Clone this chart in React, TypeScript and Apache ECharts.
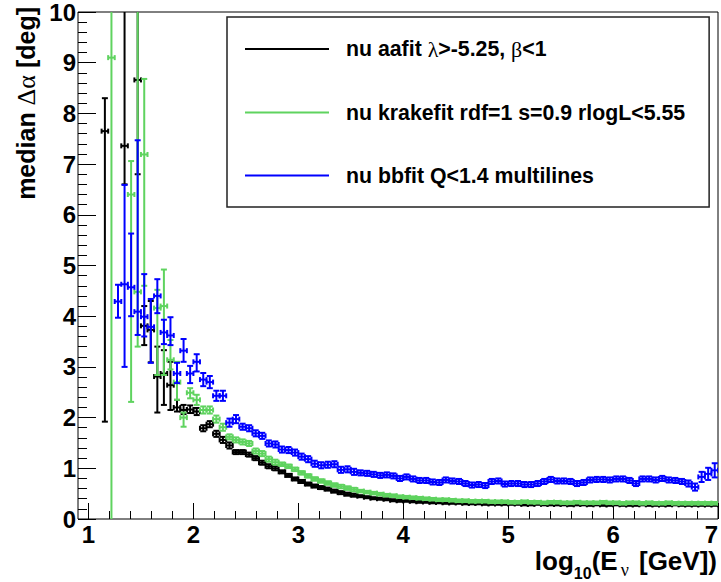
import React, { useEffect, useRef } from "react";
import * as echarts from "echarts";

// Histogram binning in log10(E/GeV): 96 bins of 0.0625 from 1 to 7
const BIN_START = 1;
const BIN_WIDTH = 0.0625;

const X_TICKS = [1, 2, 3, 4, 5, 6, 7];
const Y_TICKS = [0, 1, 2, 3, 4, 5, 6, 7, 8, 9, 10];

const NAME_AAFIT = "nu aafit λ>-5.25, β<1";
const NAME_KRAKE = "nu krakefit rdf=1 s=0.9 rlogL<5.55";
const NAME_BB = "nu bbfit Q<1.4 multilines";

// ---- aafit (black) ----
const aafitMedian = [
  null, null, 7.65, null, null, 7.36, null, 8.66, 3.81, 3.73,
  2.81, 2.87, 2.64, 2.2, 2.15, 2.16, 2.12, 1.79, 1.87, 1.68,
  1.56, 1.45, 1.32, 1.32, 1.27, 1.2, 1.11, 1.04, 1.0, 0.93,
  0.86, 0.79, 0.74, 0.69, 0.65, 0.62, 0.59, 0.55, 0.52, 0.49,
  0.47, 0.45, 0.43, 0.41, 0.4, 0.39, 0.37, 0.36, 0.36, 0.35,
  0.34, 0.34, 0.33, 0.33, 0.32, 0.32, 0.32, 0.31, 0.31, 0.31,
  0.3, 0.3, 0.3, 0.3, 0.3, 0.3, 0.29, 0.29, 0.3, 0.29,
  0.29, 0.29, 0.29, 0.28, 0.29, 0.29, 0.28, 0.29, 0.28, 0.28,
  0.29, 0.28, 0.28, 0.28, 0.29, 0.28, 0.28, 0.28, 0.28, 0.29,
  0.28, 0.28, 0.28, 0.28, 0.28, 0.28,
];
const aafitErrDown = [
  null, null, 5.73, null, null, 0.76, null, 1.86, 0.38, 0.64,
  0.71, 0.62, 0.49, 0.08, 0.08, 0.07, 0.07, 0.06, 0.06, 0.06,
  0.06, 0.06, 0.04, 0.04, 0.04, 0.04, 0.04, 0.04, 0.04, 0.03,
  0.03, 0.03, 0.03, 0.03, 0.03, 0.03, 0.03, 0.03, 0.03, 0.03,
  0.03, 0.02, 0.02, 0.02, 0.02, 0.02, 0.02, 0.02, 0.02, 0.02,
  0.02, 0.02, 0.02, 0.02, 0.02, 0.02, 0.02, 0.02, 0.02, 0.02,
  0.02, 0.02, 0.02, 0.02, 0.02, 0.02, 0.02, 0.02, 0.02, 0.02,
  0.02, 0.02, 0.02, 0.02, 0.02, 0.02, 0.02, 0.02, 0.02, 0.02,
  0.02, 0.02, 0.02, 0.02, 0.02, 0.02, 0.02, 0.02, 0.02, 0.02,
  0.02, 0.02, 0.02, 0.02, 0.02, 0.02,
];
const aafitErrUp = [
  null, null, 0.65, null, null, 3.64, null, 2.34, 0.39, 0.57,
  0.59, 0.46, 0.46, 0.15, 0.1, 0.08, 0.07, 0.06, 0.06, 0.06,
  0.06, 0.06, 0.04, 0.04, 0.04, 0.04, 0.04, 0.04, 0.04, 0.03,
  0.03, 0.03, 0.03, 0.03, 0.03, 0.03, 0.03, 0.03, 0.03, 0.03,
  0.03, 0.02, 0.02, 0.02, 0.02, 0.02, 0.02, 0.02, 0.02, 0.02,
  0.02, 0.02, 0.02, 0.02, 0.02, 0.02, 0.02, 0.02, 0.02, 0.02,
  0.02, 0.02, 0.02, 0.02, 0.02, 0.02, 0.02, 0.02, 0.02, 0.02,
  0.02, 0.02, 0.02, 0.02, 0.02, 0.02, 0.02, 0.02, 0.02, 0.02,
  0.02, 0.02, 0.02, 0.02, 0.02, 0.02, 0.02, 0.02, 0.02, 0.02,
  0.02, 0.02, 0.02, 0.02, 0.02, 0.02,
];

// ---- krakefit (green) ----
const krakeMedian = [
  null, null, null, 9.1, null, null, 6.4, 4.48, 7.19, null,
  4.16, 4.2, 3.14, 2.7, 2.0, 2.49, 2.35, 2.15, 2.15, 1.97,
  1.81, 1.62, 1.56, 1.52, 1.49, 1.34, 1.29, 1.18, 1.12, 1.08,
  1.04, 0.98, 0.91, 0.85, 0.79, 0.75, 0.71, 0.67, 0.64, 0.61,
  0.58, 0.55, 0.53, 0.51, 0.49, 0.47, 0.46, 0.44, 0.43, 0.42,
  0.41, 0.4, 0.39, 0.38, 0.38, 0.37, 0.36, 0.36, 0.35, 0.35,
  0.35, 0.34, 0.34, 0.34, 0.33, 0.33, 0.34, 0.33, 0.33, 0.32,
  0.33, 0.33, 0.32, 0.32, 0.33, 0.32, 0.32, 0.32, 0.33, 0.32,
  0.32, 0.31, 0.32, 0.32, 0.31, 0.32, 0.31, 0.31, 0.32, 0.31,
  0.31, 0.31, 0.31, 0.31, 0.31, 0.31,
];
const krakeErrDown = [
  null, null, null, 10.1, null, null, 4.09, 1.08, 2.59, null,
  1.32, 1.36, 0.19, 0.35, 0.18, 0.11, 0.1, 0.07, 0.07, 0.07,
  0.07, 0.05, 0.05, 0.05, 0.05, 0.05, 0.05, 0.05, 0.05, 0.035,
  0.035, 0.035, 0.035, 0.035, 0.035, 0.035, 0.035, 0.035, 0.035, 0.035,
  0.035, 0.025, 0.025, 0.025, 0.025, 0.025, 0.025, 0.025, 0.025, 0.025,
  0.025, 0.025, 0.025, 0.025, 0.025, 0.025, 0.025, 0.025, 0.025, 0.025,
  0.025, 0.025, 0.025, 0.025, 0.025, 0.025, 0.025, 0.025, 0.025, 0.025,
  0.025, 0.025, 0.025, 0.025, 0.025, 0.025, 0.025, 0.025, 0.025, 0.025,
  0.025, 0.025, 0.025, 0.025, 0.025, 0.025, 0.025, 0.025, 0.025, 0.025,
  0.025, 0.025, 0.025, 0.025, 0.025, 0.025,
];
const krakeErrUp = [
  null, null, null, 1.9, null, null, 0.66, 6.52, 1.49, null,
  0.36, 0.72, 0.39, 0.4, 0.1, 0.09, 0.1, 0.07, 0.07, 0.07,
  0.07, 0.05, 0.05, 0.05, 0.05, 0.05, 0.05, 0.05, 0.05, 0.035,
  0.035, 0.035, 0.035, 0.035, 0.035, 0.035, 0.035, 0.035, 0.035, 0.035,
  0.035, 0.025, 0.025, 0.025, 0.025, 0.025, 0.025, 0.025, 0.025, 0.025,
  0.025, 0.025, 0.025, 0.025, 0.025, 0.025, 0.025, 0.025, 0.025, 0.025,
  0.025, 0.025, 0.025, 0.025, 0.025, 0.025, 0.025, 0.025, 0.025, 0.025,
  0.025, 0.025, 0.025, 0.025, 0.025, 0.025, 0.025, 0.025, 0.025, 0.025,
  0.025, 0.025, 0.025, 0.025, 0.025, 0.025, 0.025, 0.025, 0.025, 0.025,
  0.025, 0.025, 0.025, 0.025, 0.025, 0.025,
];

// ---- bbfit (blue) ----
const bbMedian = [
  null, null, null, null, 4.29, 4.63, 4.57, 4.09, 3.99, 3.79,
  4.4, 3.68, 3.62, 2.87, 3.32, 2.87, 3.1, 2.75, 2.7, 2.43,
  2.43, 1.9, 1.97, 1.82, 1.79, 1.69, 1.64, 1.49, 1.47, 1.37,
  1.36, 1.31, 1.23, 1.18, 1.09, 1.06, 1.07, 1.08, 0.97, 0.98,
  0.93, 0.91, 0.9, 0.88, 0.86, 0.87, 0.85, 0.8, 0.83, 0.79,
  0.76, 0.76, 0.73, 0.72, 0.77, 0.75, 0.74, 0.7, 0.67, 0.68,
  0.66, 0.74, 0.75, 0.69, 0.7, 0.7, 0.68, 0.68, 0.7, 0.74,
  0.78, 0.75, 0.75, 0.74, 0.7, 0.72, 0.77, 0.78, 0.78, 0.77,
  0.79, 0.79, 0.76, 0.7, 0.79, 0.79, 0.77, 0.8, 0.77, 0.76,
  0.74, 0.7, 0.63, 0.83, 0.89, 0.96,
];
const bbErrDown = [
  null, null, null, null, 0.32, 1.63, 0.57, 0.46, 0.39, 0.71,
  0.34, 0.23, 0.19, 0.19, 0.22, 0.19, 0.19, 0.13, 0.12, 0.1,
  0.1, 0.08, 0.08, 0.06, 0.06, 0.06, 0.06, 0.06, 0.06, 0.06,
  0.06, 0.06, 0.06, 0.06, 0.06, 0.06, 0.06, 0.06, 0.06, 0.06,
  0.06, 0.05, 0.05, 0.05, 0.05, 0.05, 0.05, 0.05, 0.05, 0.05,
  0.05, 0.05, 0.05, 0.05, 0.05, 0.05, 0.05, 0.05, 0.05, 0.05,
  0.05, 0.05, 0.05, 0.05, 0.05, 0.05, 0.05, 0.05, 0.05, 0.05,
  0.05, 0.05, 0.05, 0.05, 0.05, 0.05, 0.05, 0.05, 0.05, 0.05,
  0.05, 0.05, 0.05, 0.05, 0.05, 0.05, 0.05, 0.05, 0.05, 0.05,
  0.05, 0.06, 0.07, 0.1, 0.12, 0.14,
];
const bbErrUp = [
  null, null, null, null, 0.33, 1.96, 1.06, 3.38, 0.84, 0.55,
  0.33, 0.25, 0.36, 0.21, 0.23, 0.15, 0.15, 0.13, 0.12, 0.1,
  0.1, 0.08, 0.08, 0.06, 0.06, 0.06, 0.06, 0.06, 0.06, 0.06,
  0.06, 0.06, 0.06, 0.06, 0.06, 0.06, 0.06, 0.06, 0.06, 0.06,
  0.06, 0.05, 0.05, 0.05, 0.05, 0.05, 0.05, 0.05, 0.05, 0.05,
  0.05, 0.05, 0.05, 0.05, 0.05, 0.05, 0.05, 0.05, 0.05, 0.05,
  0.05, 0.05, 0.05, 0.05, 0.05, 0.05, 0.05, 0.05, 0.05, 0.05,
  0.05, 0.05, 0.05, 0.05, 0.05, 0.05, 0.05, 0.05, 0.05, 0.05,
  0.05, 0.05, 0.05, 0.05, 0.05, 0.05, 0.05, 0.05, 0.05, 0.05,
  0.05, 0.06, 0.07, 0.1, 0.12, 0.14,
];

const COLOR_AAFIT = "#000000";
const COLOR_KRAKE = "#5fd35f";
const COLOR_BB = "#0000ff";

const FONT = '"Liberation Sans", Arial, Helvetica, sans-serif';
const GREEK = '"Liberation Serif", "DejaVu Serif", serif';

function buildRows(med: (number | null)[], dn: (number | null)[], up: (number | null)[]) {
  const out: number[][] = [];
  med.forEach((v, i) => {
    if (v == null) return;
    const c = BIN_START + BIN_WIDTH * (i + 0.5);
    out.push([c, v, v - (dn[i] as number), v + (up[i] as number)]);
  });
  return out;
}

function errorBarRenderer(color: string) {
  return (params: any, api: any) => {
    const x = api.value(0);
    const y = api.value(1);
    const lo = api.value(2);
    const hi = api.value(3);
    const c = api.coord([x, y]);
    const pLo = api.coord([x, lo]);
    const pHi = api.coord([x, hi]);
    const hw = api.size([BIN_WIDTH, 0])[0] / 2;
    const cap = 2.5;
    const style = { stroke: color, lineWidth: 2, fill: null };
    const L = (x1: number, y1: number, x2: number, y2: number) => ({
      type: "line",
      shape: { x1, y1, x2, y2 },
      style,
    });
    return {
      type: "group",
      children: [
        L(c[0] - hw, c[1], c[0] + hw, c[1]),
        L(c[0] - hw, c[1] - cap, c[0] - hw, c[1] + cap),
        L(c[0] + hw, c[1] - cap, c[0] + hw, c[1] + cap),
        L(c[0], pLo[1], c[0], pHi[1]),
        L(c[0] - 3, pLo[1], c[0] + 3, pLo[1]),
        L(c[0] - 3, pHi[1], c[0] + 3, pHi[1]),
      ],
    };
  };
}

export default function App() {
  const ref = useRef<HTMLDivElement>(null);
  useEffect(() => {
    if (!ref.current) return;
    const chart = echarts.init(ref.current, null, { renderer: "svg" });
    const labelStyle = { fontFamily: FONT, fontWeight: "bold", fontSize: 24, color: "#000" };
    const series = [
      { name: NAME_AAFIT, color: COLOR_AAFIT, rows: buildRows(aafitMedian, aafitErrDown, aafitErrUp) },
      { name: NAME_KRAKE, color: COLOR_KRAKE, rows: buildRows(krakeMedian, krakeErrDown, krakeErrUp) },
      { name: NAME_BB, color: COLOR_BB, rows: buildRows(bbMedian, bbErrDown, bbErrUp) },
    ];
    chart.setOption({
      animation: false,
      backgroundColor: "#fff",
      grid: [
        { left: 78, right: 3, top: 12, bottom: 63, show: true, borderColor: "#000", borderWidth: 1, backgroundColor: "transparent" },
        { left: 88.5, right: 3, top: 12, bottom: 63 },
      ],
      xAxis: [
        { gridIndex: 0, type: "value", min: 0.9, max: 7, show: false },
        {
          gridIndex: 1,
          type: "value",
          min: X_TICKS[0],
          max: X_TICKS[X_TICKS.length - 1],
          interval: 1,
          axisLine: { show: false },
          axisTick: { show: true, inside: true, length: 16, lineStyle: { color: "#000", width: 1 } },
          minorTick: { show: true, splitNumber: 5, length: 8, lineStyle: { color: "#000", width: 1 } },
          splitLine: { show: false },
          axisLabel: { ...labelStyle, margin: 6, lineHeight: 19, alignMaxLabel: "right" },
        },
      ],
      yAxis: [
        {
          gridIndex: 0,
          type: "value",
          min: Y_TICKS[0],
          max: Y_TICKS[Y_TICKS.length - 1],
          interval: 1,
          axisLine: { show: false },
          axisTick: { show: true, inside: true, length: 18, lineStyle: { color: "#000", width: 1 } },
          minorTick: { show: true, splitNumber: 5, length: 9, lineStyle: { color: "#000", width: 1 } },
          splitLine: { show: false },
          axisLabel: { ...labelStyle, margin: 2 },
        },
        { gridIndex: 1, type: "value", min: 0, max: 10, show: false },
      ],
      legend: {
        orient: "vertical",
        left: 227,
        top: 17,
        padding: [21, 24, 21, 18],
        itemGap: 42,
        itemWidth: 84,
        itemHeight: 2,
        icon: "rect",
        selectedMode: false,
        borderColor: "#222",
        borderWidth: 1.5,
        backgroundColor: "#fff",
        textStyle: {
          fontFamily: FONT,
          fontWeight: "bold",
          fontSize: 21.3,
          color: "#000",
          lineHeight: 18,
          padding: [0, 0, 0, 12],
          rich: {
            g: { fontFamily: GREEK, fontWeight: "normal", fontSize: 22, color: "#000" },
          },
        },
        formatter: (name: string) => name.replace(/([λβ])/g, "{g|$1}"),
        data: series.map((s) => ({ name: s.name, itemStyle: { color: s.color } })),
      },
      graphic: [
        {
          type: "text",
          x: 26,
          y: 7,
          rotation: Math.PI / 2,
          style: {
            text: "median {g|Δα} [deg]",
            fontFamily: FONT,
            fontWeight: "bold",
            fontSize: 25,
            fill: "#000",
            align: "right",
            verticalAlign: "middle",
            rich: {
              g: { fontFamily: GREEK, fontWeight: "normal", fontSize: 26, fill: "#000" },
            },
          },
        },
        {
          type: "text",
          x: 717,
          y: 548,
          style: {
            text: "{m|log}{s|10}{m|(E}{sg|ν}{m| [GeV])}",
            align: "right",
            verticalAlign: "top",
            rich: {
              m: { fontFamily: FONT, fontWeight: "bold", fontSize: 26, fill: "#000", padding: [0, 0, 7, 0], verticalAlign: "bottom" },
              s: { fontFamily: FONT, fontWeight: "bold", fontSize: 16, fill: "#000", verticalAlign: "bottom" },
              sg: { fontFamily: GREEK, fontWeight: "normal", fontSize: 18, fill: "#000", padding: [0, 3, 2, 3], verticalAlign: "bottom" },
            },
          },
        },
      ],
      series: series.map((s, i) => ({
        type: "custom",
        name: s.name,
        xAxisIndex: 0,
        yAxisIndex: 0,
        clip: true,
        z: 2 + i,
        itemStyle: { color: s.color },
        renderItem: errorBarRenderer(s.color),
        encode: { x: 0, y: [1, 2, 3] },
        data: s.rows,
      })),
    });
    return () => chart.dispose();
  }, []);
  return (
    <div
      ref={ref}
      style={{ position: "absolute", left: 0, top: 0, width: 721, height: 582, background: "#fff" }}
    />
  );
}
